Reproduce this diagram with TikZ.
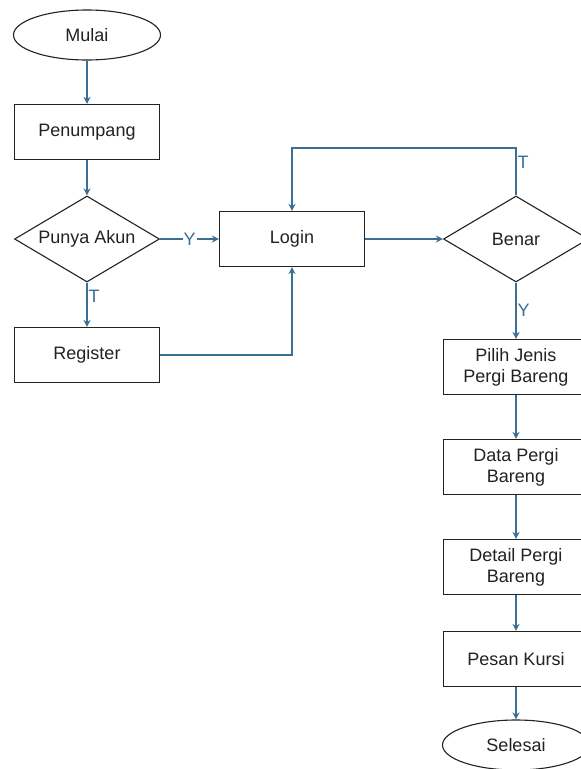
\documentclass[tikz,border=0pt]{standalone}
\usepackage{fontspec}
\setmainfont{Liberation Sans}
\usetikzlibrary{shapes.geometric,arrows.meta}
\definecolor{flow}{HTML}{3B6F94}
\definecolor{ink}{HTML}{222222}
\tikzset{
  base/.style={draw=ink, line width=1.1pt, text=ink, font=\fontsize{18}{21}\selectfont, align=center, inner sep=0pt},
  procbox/.style={base, rectangle, minimum width=145pt, minimum height=55pt},
  terminal/.style={base, ellipse, minimum width=147pt, minimum height=50pt},
  decision/.style={base, diamond, aspect=1.7, minimum width=145pt, minimum height=86pt},
  flowline/.style={draw=flow, line width=1.3pt, -{Stealth[length=7pt,width=7pt]}},
  flowlabel/.style={text=flow, font=\fontsize{18}{21}\selectfont, inner sep=1pt}
}
\begin{document}
\begin{tikzpicture}[x=1pt, y=-1pt]
  \useasboundingbox[fill=white] (0,0) rectangle (581,769);

  % left column
  \node[terminal] (mulai) at (87,35) {Mulai};
  \node[procbox] (penumpang) at (87,132) {Penumpang};
  \node[decision] (akun) at (87,239) {Punya Akun};
  \node[procbox] (register) at (87,355) {Register};

  % login and check
  \node[procbox] (login) at (292,239) {Login};
  \node[decision] (benar) at (516,239) {Benar};

  % right column
  \node[procbox] (pilih) at (516,367) {Pilih Jenis\\Pergi Bareng};
  \node[procbox] (data) at (516,467) {Data Pergi\\Bareng};
  \node[procbox] (detail) at (516,567) {Detail Pergi\\Bareng};
  \node[procbox] (pesan) at (516,659) {Pesan Kursi};
  \node[terminal] (selesai) at (516,745) {Selesai};

  \coordinate (loopTop) at (516,148);
  \coordinate (loopLeft) at (292,148);
  \coordinate (regCorner) at (292,355);

  % connectors
  \draw[flowline] (mulai) -- (penumpang);
  \draw[flowline] (penumpang) -- (akun);
  \draw[flowline] (akun) -- node[flowlabel, fill=white] {Y} (login);
  \draw[flowline] (akun) -- node[flowlabel, right, pos=0.3] {T} (register);
  \draw[flowline] (register.east) -- (regCorner) -- (login.south);
  \draw[flowline] (login) -- (benar);
  \draw[flowline] (benar.north) -- node[flowlabel, right, pos=0.7] {T} (loopTop) -- (loopLeft) -- (login.north);
  \draw[flowline] (benar) -- node[flowlabel, right, pos=0.5] {Y} (pilih);
  \draw[flowline] (pilih) -- (data);
  \draw[flowline] (data) -- (detail);
  \draw[flowline] (detail) -- (pesan);
  \draw[flowline] (pesan) -- (selesai);
\end{tikzpicture}
\end{document}
